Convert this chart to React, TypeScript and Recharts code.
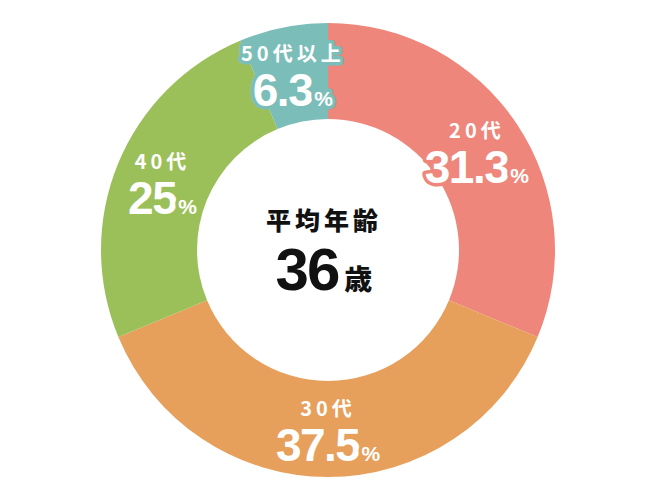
import React from 'react'
import { Pie, PieChart, Cell } from 'recharts'

const ageGroups = ['20代', '30代', '40代', '50代以上']
const shares = [31.3, 37.5, 25, 6.3]
const sliceColors = ['#EE867B', '#E7A05B', '#9CC059', '#7BBDB8']
const centerTitle = '平均年齢'
const averageAge = '36'
const ageUnit = '歳'

const data = ageGroups.map((group, i) => ({ group, share: shares[i] }))

const RADIAN = Math.PI / 180
const numFont = '"Liberation Sans", Arial, sans-serif'
const jpFont = '"Noto Sans CJK JP", "Noto Sans", sans-serif'

function SliceLabel(props: any) {
  const { cx, cy, midAngle, index } = props
  const r = 179
  const x = cx + r * Math.cos(-midAngle * RADIAN)
  const y = cy + r * Math.sin(-midAngle * RADIAN)
  const color = sliceColors[index]
  const paint = {
    fill: '#fff',
    stroke: color,
    strokeWidth: 7,
    strokeLinejoin: 'round' as const,
    paintOrder: 'stroke',
    textAnchor: 'middle' as const,
  }
  return (
    <g>
      <text {...paint} x={x} y={y - 13} fontSize={20} fontWeight={700} fontFamily={jpFont} letterSpacing={4}>
        {data[index].group}
      </text>
      <text {...paint} x={x} y={y + 32} fontFamily={numFont} fontWeight={700}>
        <tspan fontSize={46} letterSpacing={-1.5}>{String(data[index].share)}</tspan>
        <tspan fontSize={21} dx={2}>%</tspan>
      </text>
    </g>
  )
}

export default function App() {
  return (
    <div style={{ width: 650, height: 500, background: '#fff' }}>
      <style>{'body{margin:0}'}</style>
      <PieChart width={650} height={500}>
        <Pie
          data={data}
          dataKey="share"
          nameKey="group"
          cx={323}
          cy={245}
          innerRadius={131}
          outerRadius={227}
          startAngle={90}
          endAngle={-270}
          stroke="none"
          labelLine={false}
          label={SliceLabel}
          isAnimationActive={false}
        >
          {data.map((d, i) => (
            <Cell key={d.group} fill={sliceColors[i]} />
          ))}
        </Pie>
        <text x={324} y={230} textAnchor="middle" fontSize={25} fontWeight={900} fontFamily={jpFont} letterSpacing={4} fill="#111">
          {centerTitle}
        </text>
        <text x={324} y={290} textAnchor="middle" fill="#111">
          <tspan fontSize={60} fontWeight={700} fontFamily={numFont} letterSpacing={-2}>{averageAge}</tspan>
          <tspan fontSize={28} fontWeight={900} fontFamily={jpFont} dx={6}>{ageUnit}</tspan>
        </text>
      </PieChart>
    </div>
  )
}
